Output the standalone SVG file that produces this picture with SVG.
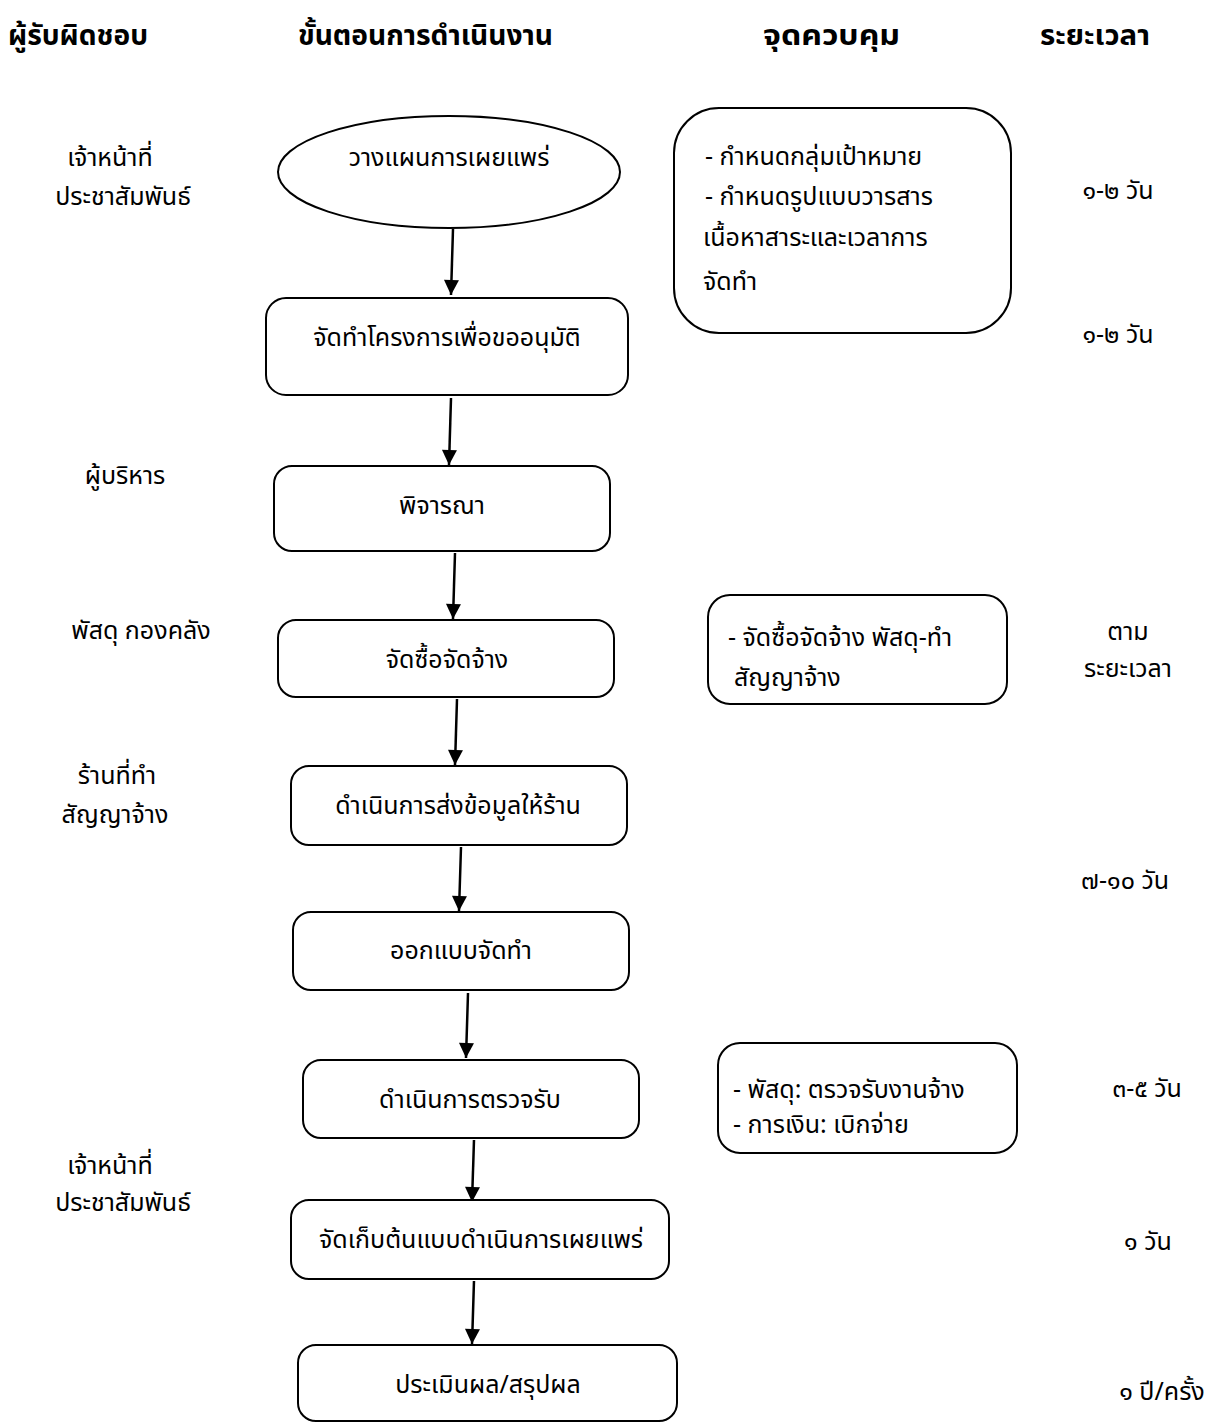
<svg xmlns="http://www.w3.org/2000/svg" width="1219" height="1423" viewBox="0 0 1219 1423">
<defs>
<marker id="arr" viewBox="0 0 10 10" refX="10" refY="5" markerWidth="6.4" markerHeight="6" markerUnits="strokeWidth" orient="auto">
<path d="M0,0 L10,5 L0,10 Z" fill="#000"/>
</marker>
<style>
text{font-family:"Noto Sans Thai","Noto Sans","Leelawadee UI",sans-serif;font-size:25px;fill:#000}
.h{font-weight:bold;font-size:28px}
.m{text-anchor:middle}
.box{fill:#fff;stroke:#000;stroke-width:2}
.con{stroke:#000;stroke-width:2.5;fill:none;marker-end:url(#arr)}
</style>
</defs>
<rect width="1219" height="1423" fill="#fff"/>
<g id="headers">
<text class="h" x="8" y="45" textLength="140" lengthAdjust="spacingAndGlyphs">ผู้รับผิดชอบ</text>
<text class="h" x="298" y="45" textLength="255" lengthAdjust="spacingAndGlyphs">ขั้นตอนการดำเนินงาน</text>
<text class="h" x="763" y="45" textLength="137" lengthAdjust="spacingAndGlyphs">จุดควบคุม</text>
<text class="h" x="1040" y="45" textLength="110" lengthAdjust="spacingAndGlyphs">ระยะเวลา</text>
</g>
<g id="responsible">
<text class="m" x="110" y="166">เจ้าหน้าที่</text>
<text class="m" x="123" y="205">ประชาสัมพันธ์</text>
<text class="m" x="125" y="484">ผู้บริหาร</text>
<text class="m" x="141" y="639">พัสดุ กองคลัง</text>
<text class="m" x="117" y="784">ร้านที่ทำ</text>
<text class="m" x="115" y="823">สัญญาจ้าง</text>
<text class="m" x="110" y="1174">เจ้าหน้าที่</text>
<text class="m" x="123" y="1211">ประชาสัมพันธ์</text>
</g>
<g id="connectors">
<line class="con" x1="453" y1="229" x2="451" y2="295"/>
<line class="con" x1="451" y1="398" x2="449" y2="465"/>
<line class="con" x1="455" y1="553" x2="453" y2="619"/>
<line class="con" x1="457" y1="699" x2="455" y2="765"/>
<line class="con" x1="461" y1="847" x2="459" y2="911"/>
<line class="con" x1="468" y1="993" x2="466" y2="1058"/>
<line class="con" x1="474" y1="1140" x2="472" y2="1202"/>
<line class="con" x1="474" y1="1281" x2="472" y2="1344"/>
</g>
<g id="n1">
<ellipse class="box" cx="449" cy="172" rx="171" ry="56"/>
<text class="m" x="449" y="166">วางแผนการเผยแพร่</text>
</g>
<g id="n2">
<rect class="box" x="266" y="298" width="362" height="97" rx="20"/>
<text class="m" x="447" y="346">จัดทำโครงการเพื่อขออนุมัติ</text>
</g>
<g id="n3">
<rect class="box" x="274" y="466" width="336" height="85" rx="18"/>
<text class="m" x="442" y="514">พิจารณา</text>
</g>
<g id="n4">
<rect class="box" x="278" y="620" width="336" height="77" rx="18"/>
<text class="m" x="447" y="668">จัดซื้อจัดจ้าง</text>
</g>
<g id="n5">
<rect class="box" x="291" y="766" width="336" height="79" rx="18"/>
<text class="m" x="458" y="814">ดำเนินการส่งข้อมูลให้ร้าน</text>
</g>
<g id="n6">
<rect class="box" x="293" y="912" width="336" height="78" rx="18"/>
<text class="m" x="461" y="959">ออกแบบจัดทำ</text>
</g>
<g id="n7">
<rect class="box" x="303" y="1060" width="336" height="78" rx="18"/>
<text class="m" x="470" y="1108">ดำเนินการตรวจรับ</text>
</g>
<g id="n8">
<rect class="box" x="291" y="1200" width="378" height="79" rx="18"/>
<text class="m" x="481" y="1248">จัดเก็บต้นแบบดำเนินการเผยแพร่</text>
</g>
<g id="n9">
<rect class="box" x="298" y="1345" width="379" height="76" rx="18"/>
<text class="m" x="488" y="1393">ประเมินผล/สรุปผล</text>
</g>
<g id="c1">
<rect class="box" x="674" y="108" width="337" height="225" rx="45"/>
<text x="705" y="165">- กำหนดกลุ่มเป้าหมาย</text>
<text x="705" y="205">- กำหนดรูปแบบวารสาร</text>
<text x="703" y="246">เนื้อหาสาระและเวลาการ</text>
<text x="703" y="290">จัดทำ</text>
</g>
<g id="c2">
<rect class="box" x="708" y="595" width="299" height="109" rx="22"/>
<text x="728" y="646">- จัดซื้อจัดจ้าง พัสดุ-ทำ</text>
<text x="734" y="686">สัญญาจ้าง</text>
</g>
<g id="c3">
<rect class="box" x="718" y="1043" width="299" height="110" rx="22"/>
<text x="733" y="1098">- พัสดุ: ตรวจรับงานจ้าง</text>
<text x="733" y="1133">- การเงิน: เบิกจ่าย</text>
</g>
<g id="durations">
<text class="m" x="1118" y="199">๑-๒ วัน</text>
<text class="m" x="1118" y="343">๑-๒ วัน</text>
<text class="m" x="1128" y="640">ตาม</text>
<text class="m" x="1128" y="677">ระยะเวลา</text>
<text class="m" x="1125" y="889">๗-๑๐ วัน</text>
<text class="m" x="1147" y="1097">๓-๕ วัน</text>
<text class="m" x="1148" y="1250">๑ วัน</text>
<text class="m" x="1162" y="1400">๑ ปี/ครั้ง</text>
</g>
</svg>
